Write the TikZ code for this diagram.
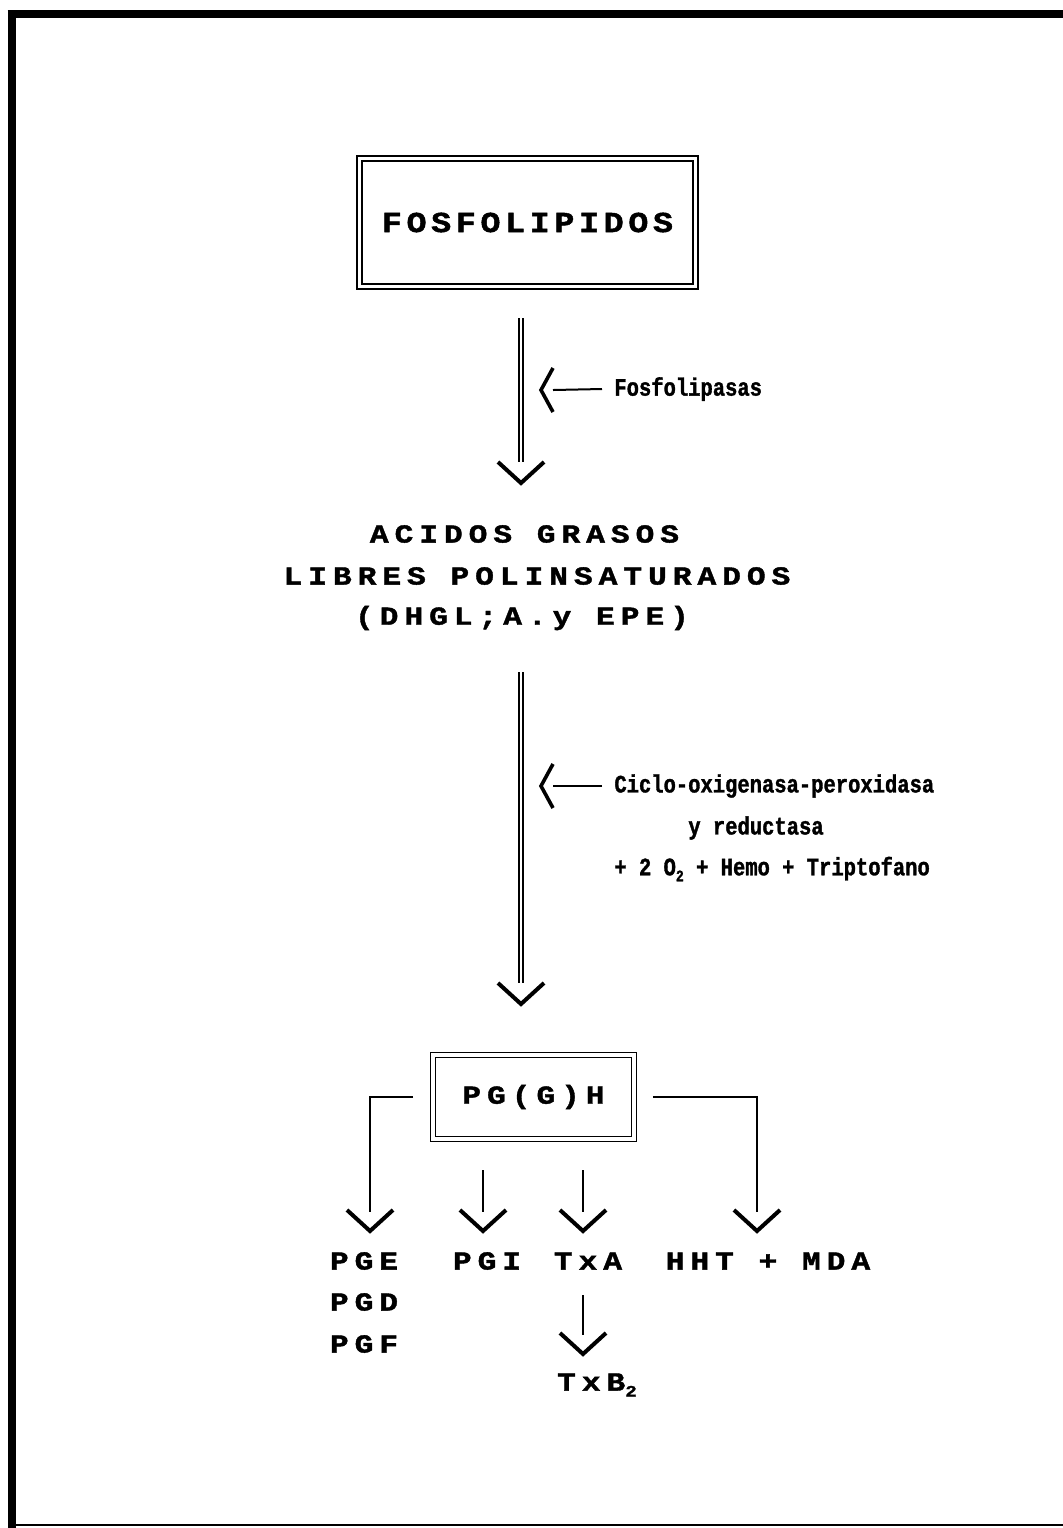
\documentclass[tikz,border=0pt]{standalone}
\usepackage{fontspec}
\newfontfamily\titlefont[LetterSpace=16,FakeStretch=1.15,FakeBold=1.5]{Liberation Mono}
\newfontfamily\printfont[LetterSpace=23,WordSpace=1.0,FakeStretch=1.2,FakeBold=1.5]{Liberation Mono}
\newfontfamily\labelfont[FakeStretch=0.82,FakeBold=1.3]{Liberation Mono}
\usetikzlibrary{calc}
\tikzset{
  dblbox/.style={draw, double, double distance=1.6pt, line width=0.9pt, inner sep=0pt},
  bigtext/.style={font=\printfont\bfseries\fontsize{13}{15}\selectfont, inner sep=0pt},
  smalltext/.style={font=\labelfont\bfseries\fontsize{12.5}{14}\selectfont, inner sep=0pt},
  shaft/.style={line width=1pt},
  dblshaft/.style={double, double distance=1pt, line width=1pt},
  chev/.style={line width=2pt, line join=miter},
  sidechev/.style={line width=1.8pt, line join=miter}
}
\begin{document}
\begin{tikzpicture}[x=0.5pt,y=-0.5pt]
\useasboundingbox (0,0) rectangle (1063,1528);
% frame
\draw[line width=4pt] (11.5,10) -- (11.5,1528);
\draw[line width=4pt] (7.5,14) -- (1063,14);
\draw[line width=1pt] (11.5,1524.5) -- (1063,1524.5);

% boxes and texts
\node[dblbox, minimum width=168pt, minimum height=64pt, font=\titlefont\bfseries\fontsize{14.5}{16}\selectfont] (fosfo) at (527.5,222.5) {FOSFOLIPIDOS};
\node[smalltext, anchor=west] (fosfolipasas) at (614,389) {Fosfolipasas};
\node[bigtext] (acidos) at (524.5,534) {ACIDOS GRASOS};
\node[bigtext] (libres) at (537,576) {LIBRES POLINSATURADOS};
\node[bigtext] (dhgl) at (522,618) {(DHGL;A.y EPE)};
\node[smalltext, anchor=west] (ciclo) at (614,786) {Ciclo-oxigenasa-peroxidasa};
\node[smalltext] (reduc) at (756,828) {y reductasa};
\node[smalltext, anchor=west] (cofac) at (614,869) {+ 2 O\raisebox{-3pt}{\fontsize{8}{8}\selectfont 2} + Hemo + Triptofano};
\node[dblbox, minimum width=100.5pt, minimum height=42pt, font=\printfont\bfseries\fontsize{13}{15}\selectfont] (pgh) at (533.5,1097) {PG(G)H};
\node[bigtext] (pge) at (364,1261) {PGE};
\node[bigtext] (pgd) at (364,1302) {PGD};
\node[bigtext] (pgf) at (364,1344) {PGF};
\node[bigtext] (pgi) at (487,1261) {PGI};
\node[bigtext] (txa) at (588,1261) {TxA};
\node[bigtext] (hht) at (768,1261) {HHT + MDA};
\node[bigtext] (txb) at (597,1385) {TxB\raisebox{-3pt}{\fontsize{8}{8}\selectfont 2}};

% arrow points
\coordinate (top1) at (521,318);
\coordinate (tip1) at (521,483);
\coordinate (top2) at (521,672);
\coordinate (tip2) at (521,1004);
\coordinate (side1) at (541,390);
\coordinate (side2) at (541,786);
\coordinate (topI) at (483,1170);
\coordinate (topA) at (583,1170);
\coordinate (topB) at (583,1295);
\coordinate (tipE) at (370,1231);
\coordinate (tipI) at (483,1231);
\coordinate (tipA) at (583,1231);
\coordinate (tipH) at (757,1231);
\coordinate (tipB) at (583,1354);

% connectors
\draw[dblshaft] (top1) -- ($(tip1)+(0,-21)$);
\draw[dblshaft] (top2) -- ($(tip2)+(0,-21)$);
\draw[shaft] ($(fosfolipasas.west)+(-12,0)$) -- ($(side1)+(12,0)$);
\draw[shaft] ($(ciclo.west)+(-12,0)$) -- ($(side2)+(12,0)$);
\foreach \s in {side1,side2}
  \draw[sidechev] (\s) ++(12,-22) -- (\s) -- ++(12,22);
\draw[shaft] ($(pgh.west)+(-19,0)$) -| ($(tipE)+(0,-19)$);
\draw[shaft] ($(pgh.east)+(18,0)$) -| ($(tipH)+(0,-19)$);
\draw[shaft] (topI) -- ($(tipI)+(0,-19)$);
\draw[shaft] (topA) -- ($(tipA)+(0,-19)$);
\draw[shaft] (topB) -- ($(tipB)+(0,-19)$);
\foreach \t in {tip1,tip2,tipE,tipI,tipA,tipH,tipB}
  \draw[chev] (\t) ++(-23,-21) -- (\t) -- ++(23,-21);
\end{tikzpicture}
\end{document}
